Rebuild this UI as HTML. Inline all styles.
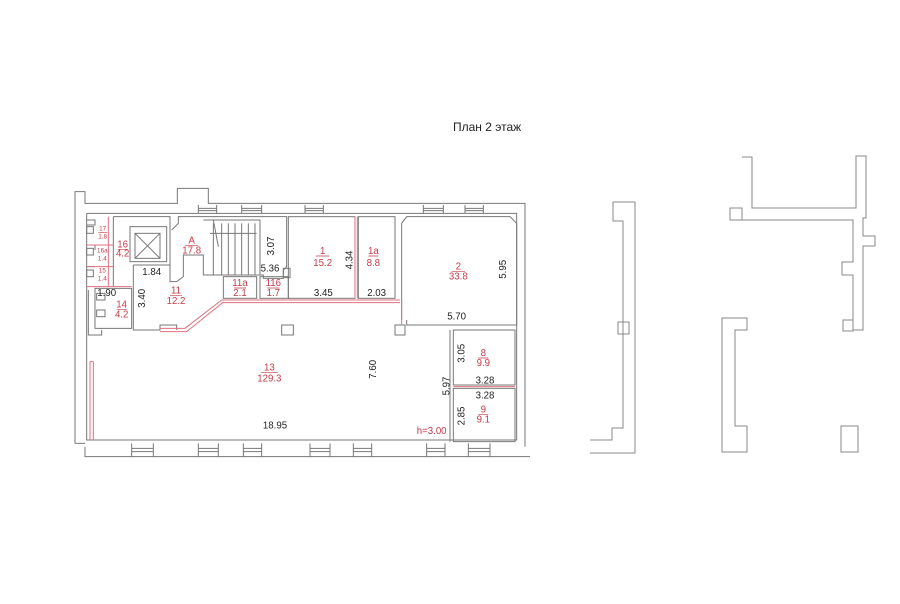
<!DOCTYPE html>
<html><head><meta charset="utf-8"><style>
html,body{margin:0;padding:0;background:#fff;}
svg{display:block;}
text{font-family:"Liberation Sans",sans-serif;}
</style></head><body>
<svg width="900" height="604" viewBox="0 0 900 604" xmlns="http://www.w3.org/2000/svg">
<rect width="900" height="604" fill="#fff"/>
<text x="453" y="131" font-size="12" fill="#222">План 2 этаж</text>

<g fill="none" stroke="#888" stroke-width="1">
<path d="M590,453 H635 V202 H613 V221 H623 V428 H612 V440 H590"/>
<rect x="618" y="322" width="11" height="12"/>
<path d="M742,157 H752 V208 H856 V156 H866 V218 H863 V236 H875 V246 H863 V330 H853 V275 H842 V262 H853 V220 H742"/>
<rect x="730" y="208" width="12" height="12"/>
<rect x="843" y="320" width="10" height="11"/>
<path d="M722,318 H747 V330 H735 V426 H747 V452 H722 Z"/>
<rect x="841" y="426" width="17" height="26"/>
</g>

<g transform="translate(70,180) scale(0.33333)">
<g fill="none" stroke="#777" stroke-width="3">
<path d="M15,790 V35 H45 V70 H322 V25 H415 V70 H1365 V800"/>
<path d="M45,800 V830 H1380"/>
<path d="M15,790 H45"/>
<path d="M50,100 V780 H1340 V100 H50"/>
<path d="M385,75 V100 M440,75 V100 M385,85 H440 M385,92 H440"/>
<path d="M515,75 V100 M575,75 V100 M515,85 H575 M515,92 H575"/>
<path d="M705,75 V100 M760,75 V100 M705,85 H760 M705,92 H760"/>
<path d="M1060,75 V100 M1120,75 V100 M1060,85 H1120 M1060,92 H1120"/>
<path d="M1185,75 V100 M1240,75 V100 M1185,85 H1240 M1185,92 H1240"/>
<path d="M185,790 V830 M250,790 V830 M185,805 H250 M185,815 H250"/>
<path d="M385,790 V830 M445,790 V830 M385,805 H445 M385,815 H445"/>
<path d="M520,790 V830 M575,790 V830 M520,805 H575 M520,815 H575"/>
<path d="M720,790 V830 M780,790 V830 M720,805 H780 M720,815 H780"/>
<path d="M850,790 V830 M905,790 V830 M850,805 H905 M850,815 H905"/>
<path d="M1070,790 V830 M1125,790 V830 M1070,805 H1125 M1070,815 H1125"/>
<path d="M1195,790 V830 M1260,790 V830 M1195,805 H1260 M1195,815 H1260"/>
<rect x="655" y="110" width="200" height="245"/>
<rect x="865" y="110" width="110" height="245"/>
<path d="M995,420 V130 L1010,110 H1320 L1340,130 V435 H1010 V420"/>
<rect x="1150" y="450" width="185" height="165"/>
<rect x="1150" y="625" width="185" height="160"/>
<path d="M1140,450 V785"/>
<rect x="975" y="435" width="30" height="30"/>
<path d="M305,150 L325,130 V110 H650 V260 L640,270 V295 H580 V285 H400 V225 H340 V290 L320,305 H300 V130"/>
<path d="M430,120 L445,200 M400,120 H570 M570,120 V285"/>
<path d="M420,160 H560"/>
<path d="M430,130 V285 M455,130 V285 M475,130 V285 M495,130 V285 M515,130 V285 M535,130 V285 M555,130 V285"/>
<rect x="180" y="140" width="110" height="105"/>
<rect x="195" y="160" width="75" height="75"/>
<path d="M195,160 L270,235 M270,160 L195,235"/>
<path d="M190,255 H300 V305 M190,255 V450 H270 V435 H320 V450"/>
<path d="M75,325 H185 V445 H75 Z"/>
<path d="M55,330 V465 H95 V450"/>
<path d="M130,110 V320 M130,110 H300 V140"/>
<rect x="460" y="290" width="100" height="65"/>
<rect x="570" y="290" width="85" height="65"/>
<rect x="635" y="435" width="35" height="30"/>
<rect x="640" y="265" width="20" height="28"/>
<path d="M50,120 H75 V135 H50 M50,195 H75 V210 M50,260 H75"/>
<rect x="80" y="340" width="25" height="20"/><rect x="80" y="390" width="25" height="20"/>
<rect x="50" y="140" width="20" height="20"/><rect x="50" y="205" width="20" height="20"/><rect x="50" y="270" width="20" height="20"/>
</g>
<g fill="none" stroke="#e07080" stroke-width="3">
<path d="M455,360 H990 M455,368 H990"/>
<path d="M455,360 L345,445 H270 M458,368 L350,455 H270"/>
<path d="M855,110 V355 M862,110 V355"/>
<path d="M1150,620 H1335"/>
<path d="M60,545 V780 M70,545 V780 M60,545 H70"/>
<path d="M115,110 V320 M50,195 H130 M50,260 H130 M50,320 H185"/>
<path d="M995,360 V435"/>
</g>
<g fill="#c43a48" text-anchor="middle" font-size="29">
<text x="98" y="152" font-size="19">17</text><text x="98" y="176" font-size="19">1.8</text>
<text x="97" y="218" font-size="19">16a</text><text x="97" y="242" font-size="19">1.4</text>
<text x="97" y="278" font-size="19">15</text><text x="97" y="302" font-size="19">1.4</text>
<text x="158" y="202">16</text><text x="158" y="230">4.2</text>
<text x="155" y="382">14</text><text x="155" y="412">4.2</text>
<text x="318" y="340">11</text><text x="318" y="372">12.2</text>
<text x="365" y="190">A</text><text x="365" y="220">17.8</text>
<text x="510" y="318">11a</text><text x="510" y="348">2.1</text>
<text x="610" y="318">116</text><text x="610" y="348">1.7</text>
<text x="758" y="222">1</text><text x="758" y="258">15.2</text>
<text x="910" y="222">1a</text><text x="910" y="258">8.8</text>
<text x="1165" y="268">2</text><text x="1165" y="298">33.8</text>
<text x="598" y="572">13</text><text x="598" y="604">129.3</text>
<text x="1240" y="528">8</text><text x="1240" y="558">9.9</text>
<text x="1240" y="698">9</text><text x="1240" y="728">9.1</text>
<text x="1085" y="762">h=3.00</text>
</g>
<g stroke="#c43a48" stroke-width="2">
<path d="M85,157 H112 M143,208 H173 M140,388 H170 M300,346 H336 M345,196 H385 M492,324 H528 M592,324 H628 M738,228 H778 M895,228 H925 M1145,274 H1185 M573,578 H623 M1225,534 H1255 M1225,704 H1255"/>
</g>
<g fill="#222" text-anchor="middle" font-size="29">
<text x="245" y="285">1.84</text>
<text x="110" y="348">1.90</text>
<text x="600" y="275">5.36</text>
<text x="760" y="348">3.45</text>
<text x="920" y="348">2.03</text>
<text x="1160" y="418">5.70</text>
<text x="1245" y="610">3.28</text>
<text x="1245" y="655">3.28</text>
<text x="615" y="745">18.95</text>
<text transform="translate(225,355) rotate(-90)">3.40</text>
<text transform="translate(612,198) rotate(-90)">3.07</text>
<text transform="translate(848,240) rotate(-90)">4.34</text>
<text transform="translate(1308,268) rotate(-90)">5.95</text>
<text transform="translate(918,568) rotate(-90)">7.60</text>
<text transform="translate(1183,520) rotate(-90)">3.05</text>
<text transform="translate(1138,618) rotate(-90)">5.97</text>
<text transform="translate(1183,708) rotate(-90)">2.85</text>
</g>
</g>
</svg>
</body></html>
